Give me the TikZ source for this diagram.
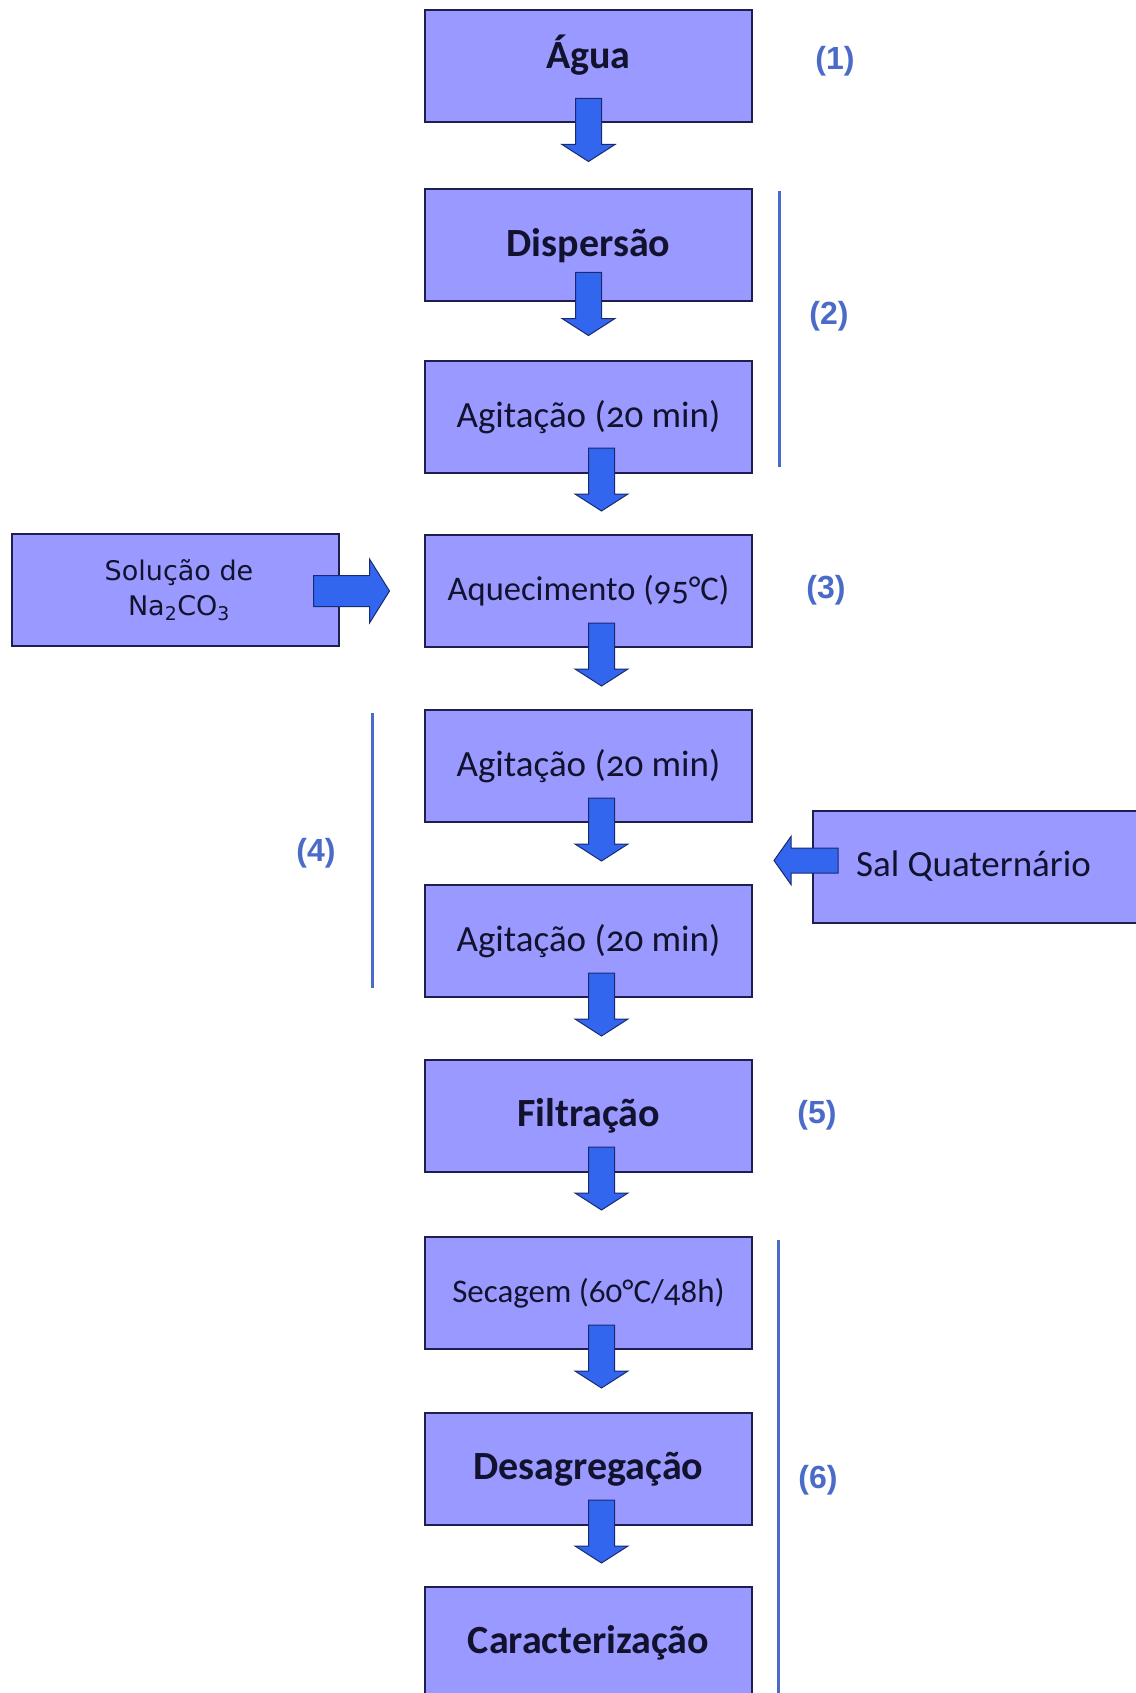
\documentclass[tikz,border=0pt]{standalone}
\usepackage{fontspec}
\setmainfont{Carlito}[Numbers=OldStyle]
\newfontfamily\dvfont{DejaVu Sans}
\newfontfamily\lblfont{Liberation Sans}
\usetikzlibrary{calc}
\definecolor{boxfill}{HTML}{9999FF}
\definecolor{boxline}{HTML}{1E1E50}
\definecolor{boxtext}{HTML}{12122E}
\definecolor{arrfill}{HTML}{3366EE}
\definecolor{arrline}{HTML}{1A2A70}
\definecolor{lblblue}{HTML}{4A6BC8}
\tikzset{
  box/.style={draw=boxline, line width=2pt, fill=boxfill, minimum width=327pt,
    minimum height=112pt, inner sep=0pt, text=boxtext, align=center},
  boldtxt/.style={font=\fontsize{40}{44}\selectfont\bfseries},
  regtxt/.style={font=\fontsize{37}{42}\selectfont},
  lbl/.style={text=lblblue, font=\lblfont\fontsize{32}{36}\selectfont\bfseries, inner sep=0pt},
  vline/.style={draw=lblblue, line width=3pt},
  arrstyle/.style={fill=arrfill, draw=arrline, line width=1pt, line join=miter},
  darr/.pic={\filldraw[arrstyle] (-13,0) -- (13,0) -- (13,46) -- (26.5,46) -- (0,63)
     -- (-26.5,46) -- (-13,46) -- cycle;},
  rarr/.pic={\filldraw[arrstyle] (0,-15.5) -- (56,-15.5) -- (56,-32) -- (76,0)
     -- (56,32) -- (56,15.5) -- (0,15.5) -- cycle;},
  larr/.pic={\filldraw[arrstyle] (0,-12.5) -- (-47,-12.5) -- (-47,-24) -- (-64,0)
     -- (-47,24) -- (-47,12.5) -- (0,12.5) -- cycle;}
}
\begin{document}
\begin{tikzpicture}[x=1pt,y=-1pt]
\useasboundingbox[fill=white] (0,0) rectangle (1135,1693);

% main column boxes
\node[box,boldtxt] (agua)  at (588.5,66.5)  {\raisebox{0pt}[\height][\dimexpr\depth+22pt\relax]{Água}};
\node[box,boldtxt] (disp)  at (588.5,245.5) {Dispersão};
\node[box,regtxt]  (ag1)   at (588.5,417)   {Agitação (20 min)};
\node[box,font=\fontsize{34.5}{38}\selectfont] (aq) at (588.5,591) {Aquecimento (95°C)};
\node[box,regtxt]  (ag2)   at (588.5,766)   {Agitação (20 min)};
\node[box,regtxt]  (ag3)   at (588.5,941)   {Agitação (20 min)};
\node[box,boldtxt] (filt)  at (588.5,1116)  {Filtração};
\node[box,font=\fontsize{33}{36}\selectfont] (sec) at (588.5,1293) {Secagem (60°C/48h)};
\node[box,boldtxt] (desag) at (588.5,1469)  {Desagregação};
\node[box,boldtxt] (carac) at (588.5,1643)  {Caracterização};

% side boxes
\node[box,font=\dvfont\fontsize{27}{35}\selectfont] (sol) at (175,590)
  {\hspace*{8pt}Solução de\\\hspace*{8pt}Na\textsubscript{2}CO\textsubscript{3}};
\node[box,regtxt] (sal) at (976.5,866.5) {\hspace*{-6pt}Sal Quaternário};

% down block arrows
\pic at ($(agua.south)+(0,-25)$) {darr};
\pic at ($(disp.south)+(0,-30)$) {darr};
\pic at ($(ag1.south)+(13,-26)$) {darr};
\pic at ($(aq.south)+(13,-25)$) {darr};
\pic at ($(ag2.south)+(13,-25)$) {darr};
\pic at ($(ag3.south)+(13,-25)$) {darr};
\pic at ($(filt.south)+(13,-26)$) {darr};
\pic at ($(sec.south)+(13,-25)$) {darr};
\pic at ($(desag.south)+(13,-26)$) {darr};

% side block arrows
\pic at ($(sol.east)+(-26,1)$) {rarr};
\pic at ($(sal.west)+(26,-6)$) {larr};

% bracket lines
\draw[vline] (779,191) -- (779,467);
\draw[vline] (372,713) -- (372,988);
\draw[vline] (778,1240) -- (778,1700);

% stage labels
\node[lbl] (l1) at (835,61)   {(1)};
\node[lbl] (l2) at (829,316)  {(2)};
\node[lbl] (l3) at (826,590)  {(3)};
\node[lbl] (l4) at (316,853)  {(4)};
\node[lbl] (l5) at (817,1115) {(5)};
\node[lbl] (l6) at (818,1480) {(6)};
\end{tikzpicture}
\end{document}
